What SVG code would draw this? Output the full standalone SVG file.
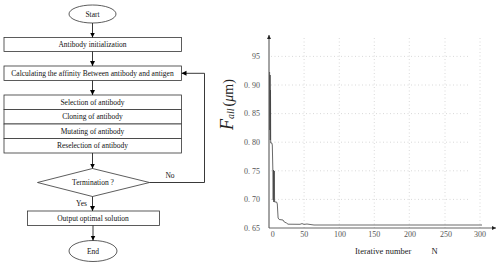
<svg xmlns="http://www.w3.org/2000/svg" width="500" height="265" viewBox="0 0 500 265">
<defs>
<marker id="ah" viewBox="0 0 10 10" refX="10" refY="5" markerWidth="5" markerHeight="6" markerUnits="userSpaceOnUse" orient="auto">
<path d="M0,0 L10,5 L0,10 z" fill="#000"/>
</marker>
<marker id="ax" viewBox="0 0 10 10" refX="10" refY="5" markerWidth="6" markerHeight="4" markerUnits="userSpaceOnUse" orient="auto">
<path d="M0,0 L10,5 L0,10 z" fill="#222"/>
</marker>
</defs>
<style>
.sh{fill:#fff;stroke:#333;stroke-width:0.8}
.t{font-family:"Liberation Serif",serif;font-size:7.5px;fill:#111;text-anchor:middle}
.c{fill:none;stroke:#222;stroke-width:0.9}
.g{stroke:#c8c8c8;stroke-width:0.7;stroke-dasharray:1,2.5;fill:none}
.tk{font-family:"Liberation Serif",serif;font-size:8px;fill:#555}
</style>
<rect width="500" height="265" fill="#fff"/>
<g id="start"><ellipse class="sh" cx="92.5" cy="14" rx="23.5" ry="9"/><text class="t" x="92.5" y="16.5">Start</text></g>
<g id="init"><rect class="sh" x="4" y="37.5" width="177.5" height="14"/><text class="t" x="92.5" y="47">Antibody initialization</text></g>
<g id="calc"><rect class="sh" x="4" y="66" width="177.5" height="14.5"/><text class="t" x="92.5" y="75.8">Calculating the affinity Between antibody and antigen</text></g>
<g id="select"><rect class="sh" x="4" y="95" width="177.5" height="14.5"/><text class="t" x="92.5" y="104.8">Selection of antibody</text></g>
<g id="clone"><rect class="sh" x="4" y="109.5" width="177.5" height="14.5"/><text class="t" x="92.5" y="119.3">Cloning of antibody</text></g>
<g id="mutate"><rect class="sh" x="4" y="124" width="177.5" height="14.5"/><text class="t" x="92.5" y="133.8">Mutating of antibody</text></g>
<g id="reselect"><rect class="sh" x="4" y="138.5" width="177.5" height="14.5"/><text class="t" x="92.5" y="148.3">Reselection of antibody</text></g>
<g id="term"><polygon class="sh" points="92.5,168.5 149.5,182.5 92.5,196.5 37.5,182.5"/><text class="t" x="93" y="185">Termination ?</text></g>
<g id="output"><rect class="sh" x="27.5" y="211" width="132" height="14.5"/><text class="t" x="93" y="220.8">Output optimal solution</text></g>
<g id="end"><ellipse class="sh" cx="93" cy="251" rx="24" ry="10.5"/><text class="t" x="93" y="253.5">End</text></g>
<g id="connectors">
<line class="c" x1="92.5" y1="23" x2="92.5" y2="37.5" marker-end="url(#ah)"/>
<line class="c" x1="92.5" y1="51.5" x2="92.5" y2="66" marker-end="url(#ah)"/>
<line class="c" x1="92.5" y1="80.5" x2="92.5" y2="95" marker-end="url(#ah)"/>
<line class="c" x1="92.5" y1="153" x2="92.5" y2="168.5" marker-end="url(#ah)"/>
<line class="c" x1="92.5" y1="196.5" x2="92.5" y2="211" marker-end="url(#ah)"/>
<line class="c" x1="93" y1="225.5" x2="93" y2="240.5" marker-end="url(#ah)"/>
<polyline class="c" points="149.5,182.5 204.5,182.5 204.5,73.3 181.5,73.3" marker-end="url(#ah)"/>
<text class="t" x="170" y="178">No</text>
<text class="t" x="81.5" y="205.5">Yes</text>
</g>
<g id="chart">
<g class="g">
<path d="M304.1,38V228M339.3,38V228M374.3,38V228M409.3,38V228M445,38V228M480,38V228"/>
<path d="M271,56.4H470M271,85H470M271,113.6H470M271,142.2H470M271,170.8H470M271,199.4H470"/>
</g>
<line x1="269" y1="228" x2="269" y2="35" stroke="#333" stroke-width="0.9" marker-end="url(#ax)"/>
<line x1="269" y1="228" x2="496" y2="228" stroke="#555" stroke-width="0.9" marker-end="url(#ax)"/>
<g class="tk" text-anchor="end">
<text x="260" y="59">95</text>
<text x="260" y="87.8">0. 90</text>
<text x="260" y="116.4">0. 85</text>
<text x="260" y="145">0. 80</text>
<text x="260" y="173.6">0. 75</text>
<text x="260" y="202.2">0. 70</text>
<text x="260" y="230.8">0. 65</text>
</g>
<g class="tk" text-anchor="middle">
<text x="272.7" y="237">0</text>
<text x="304.3" y="237">50</text>
<text x="340" y="237">100</text>
<text x="374.3" y="237">150</text>
<text x="410" y="237">200</text>
<text x="446" y="237">250</text>
<text x="480" y="237">300</text>
</g>
<text class="tk" x="355" y="254" style="fill:#222;font-size:8.5px">Iterative number<tspan dx="20">N</tspan></text>
<text transform="translate(233,130) rotate(-90)" style="font-family:'Liberation Serif',serif;font-size:14px;fill:#222"><tspan font-style="italic" font-size="18px">F</tspan><tspan font-style="italic" font-size="10px" dy="1">all</tspan><tspan dy="-1" dx="2">(</tspan><tspan font-style="italic">μ</tspan><tspan>m)</tspan></text>
<polyline fill="none" stroke="#444" stroke-width="0.8" points="269.6,72 269.9,130 270.1,75 270.3,140 270.5,90 270.7,143 271.8,143 272.3,145 272.9,172 273.2,200 273.5,170 273.8,202 274.3,171 274.6,202 276.6,202 277.3,204 278.1,218 279.2,219.5 283,220 284.3,222 286.5,223 288,224.2 300,224.3 302,223.6 304,224.4 307,224 311,224.6 314,225 482,225"/>
</g>
</svg>
